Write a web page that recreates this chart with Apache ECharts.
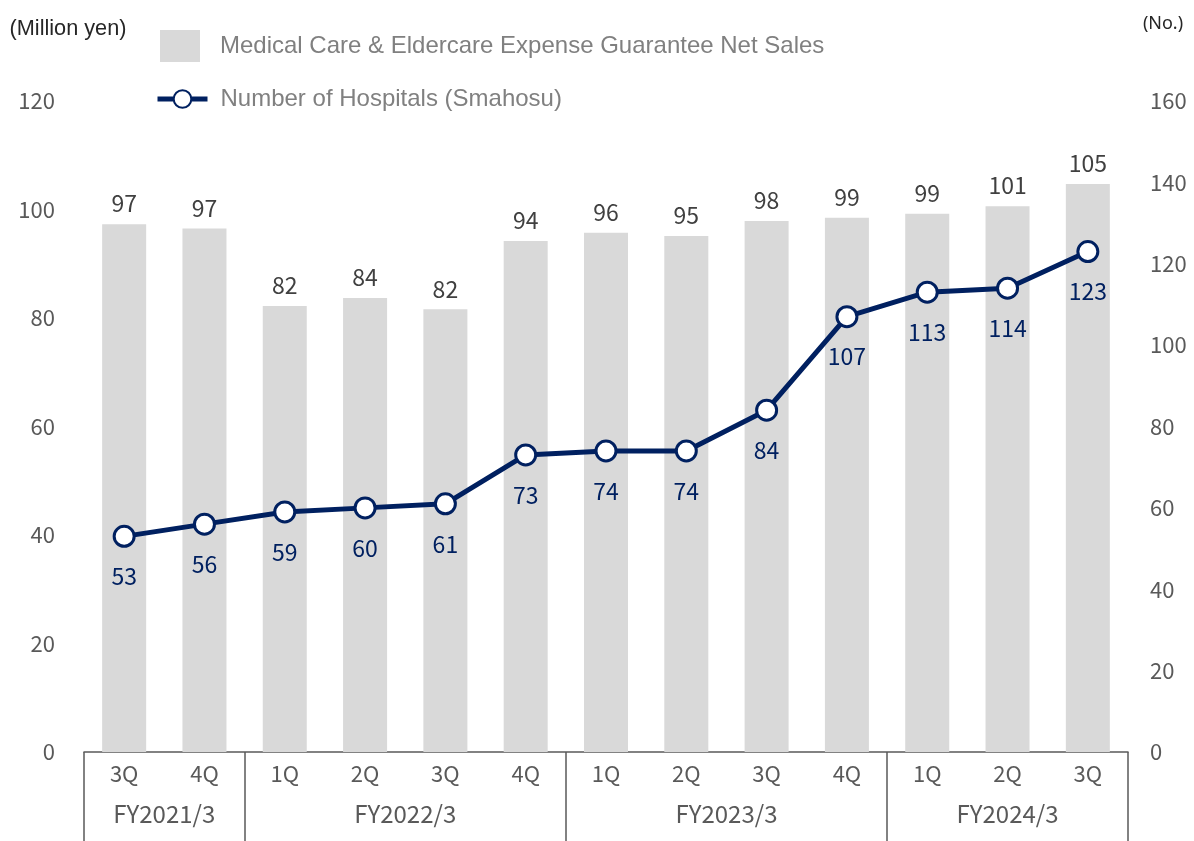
<!DOCTYPE html>
<html>
<head>
<meta charset="utf-8">
<script src="https://cdn.jsdelivr.net/npm/echarts@6/dist/echarts.min.js"></script>
<style>
  html, body { margin: 0; padding: 0; background: #fff; }
  #chart-container { width: 1194px; height: 841px; }
</style>
</head>
<body>
<div id="chart-container"></div>
<script>
// data
const quarters = ['3Q', '4Q', '1Q', '2Q', '3Q', '4Q', '1Q', '2Q', '3Q', '4Q', '1Q', '2Q', '3Q'];
const salesValues = [97.3, 96.5, 82.2, 83.7, 81.6, 94.2, 95.7, 95.1, 97.9, 98.5, 99.2, 100.6, 104.7];
const hospitalValues = [53, 56, 59, 60, 61, 73, 74, 74, 84, 107, 113, 114, 123];
// fiscal year groups: name + number of quarters
const fyNames = ['FY2021/3', 'FY2022/3', 'FY2023/3', 'FY2024/3'];
const fyCounts = [2, 4, 4, 3];

const barName = 'Medical Care & Eldercare Expense Guarantee Net Sales';
const lineName = 'Number of Hospitals (Smahosu)';

// group axis on half-category steps (boundaryGap false): 2*13+1 points
const halfSlots = [];
for (let i = 0; i <= quarters.length * 2; i++) halfSlots.push('');
const boundaryIdx = [0];
let acc = 0;
fyNames.forEach((n, i) => {
  halfSlots[acc * 2 + fyCounts[i]] = n; // middle of the group
  acc += fyCounts[i];
  boundaryIdx.push(acc * 2);
});

const numFont = '"Noto Sans CJK JP", "Noto Sans", sans-serif';
const arialFont = '"Liberation Sans", Arial, sans-serif';
const lineColor = '#002060';
const axisGray = '#595959';

var dom = document.getElementById('chart-container');
var myChart = echarts.init(dom, null, { renderer: 'canvas' });

var option = {
  animation: false,
  backgroundColor: '#fff',
  legend: [
    {
      data: [{ name: barName, icon: 'rect' }],
      left: 155, top: 25,
      itemWidth: 40, itemHeight: 32,
      textStyle: { fontFamily: arialFont, fontSize: 24, color: '#808080', padding: [0, 0, 0, 15] }
    },
    {
      data: [lineName],
      left: 150, top: 82,
      itemWidth: 50, itemHeight: 22,
      lineStyle: { width: 5 },
      textStyle: { fontFamily: arialFont, fontSize: 24, color: '#808080', padding: [0, 0, 0, 8] }
    }
  ],
  grid: { left: 84, right: 66, top: 101, bottom: 89 },
  xAxis: [
    {
      type: 'category',
      data: quarters,
      position: 'bottom',
      axisLine: { lineStyle: { color: axisGray, width: 1.5 } },
      axisTick: { show: false },
      axisLabel: { fontFamily: numFont, fontSize: 22, color: axisGray, margin: 11 }
    },
    {
      type: 'category',
      data: halfSlots,
      boundaryGap: false,
      position: 'bottom',
      axisLine: { show: false },
      axisTick: {
        show: true,
        length: 90,
        interval: function (idx) { return boundaryIdx.indexOf(idx) >= 0; },
        lineStyle: { color: axisGray, width: 1.5 }
      },
      axisLabel: {
        fontFamily: numFont, fontSize: 24, color: axisGray, margin: 50,
        interval: function (idx, val) { return val !== ''; }
      }
    }
  ],
  yAxis: [
    {
      type: 'value',
      min: 0, max: 120, interval: 20,
      name: '(Million yen)',
      nameLocation: 'end',
      nameGap: 61,
      nameTextStyle: { fontFamily: arialFont, fontSize: 21.7, color: '#262626', align: 'center', padding: [0, 32, 0, 0] },
      axisLine: { show: false },
      axisTick: { show: false },
      splitLine: { show: false },
      axisLabel: { fontFamily: numFont, fontSize: 22, color: axisGray, margin: 29 }
    },
    {
      type: 'value',
      min: 0, max: 160, interval: 20,
      name: '(No.)',
      nameLocation: 'end',
      nameGap: 68,
      nameTextStyle: { fontFamily: '"Noto Sans", sans-serif', fontSize: 18, color: '#262626', align: 'center', padding: [0, 0, 0, 70] },
      axisLine: { show: false },
      axisTick: { show: false },
      splitLine: { show: false },
      axisLabel: { fontFamily: numFont, fontSize: 22, color: axisGray, margin: 22 }
    }
  ],
  series: [
    {
      name: barName,
      type: 'bar',
      data: salesValues,
      barWidth: 44,
      itemStyle: { color: '#d9d9d9' },
      label: {
        show: true,
        position: 'top',
        distance: 9,
        fontFamily: numFont, fontSize: 23, color: '#404040',
        formatter: p => Math.round(p.value)
      },
      z: 1
    },
    {
      name: lineName,
      type: 'line',
      yAxisIndex: 1,
      data: hospitalValues,
      symbol: 'circle',
      symbolSize: 20,
      lineStyle: { color: lineColor, width: 5 },
      itemStyle: { color: '#fff', borderColor: lineColor, borderWidth: 3 },
      label: {
        show: true,
        position: 'bottom',
        distance: 17,
        fontFamily: numFont, fontSize: 23, color: lineColor
      },
      z: 3
    }
  ]
};

myChart.setOption(option);
window.addEventListener('resize', myChart.resize);
</script>
</body>
</html>
